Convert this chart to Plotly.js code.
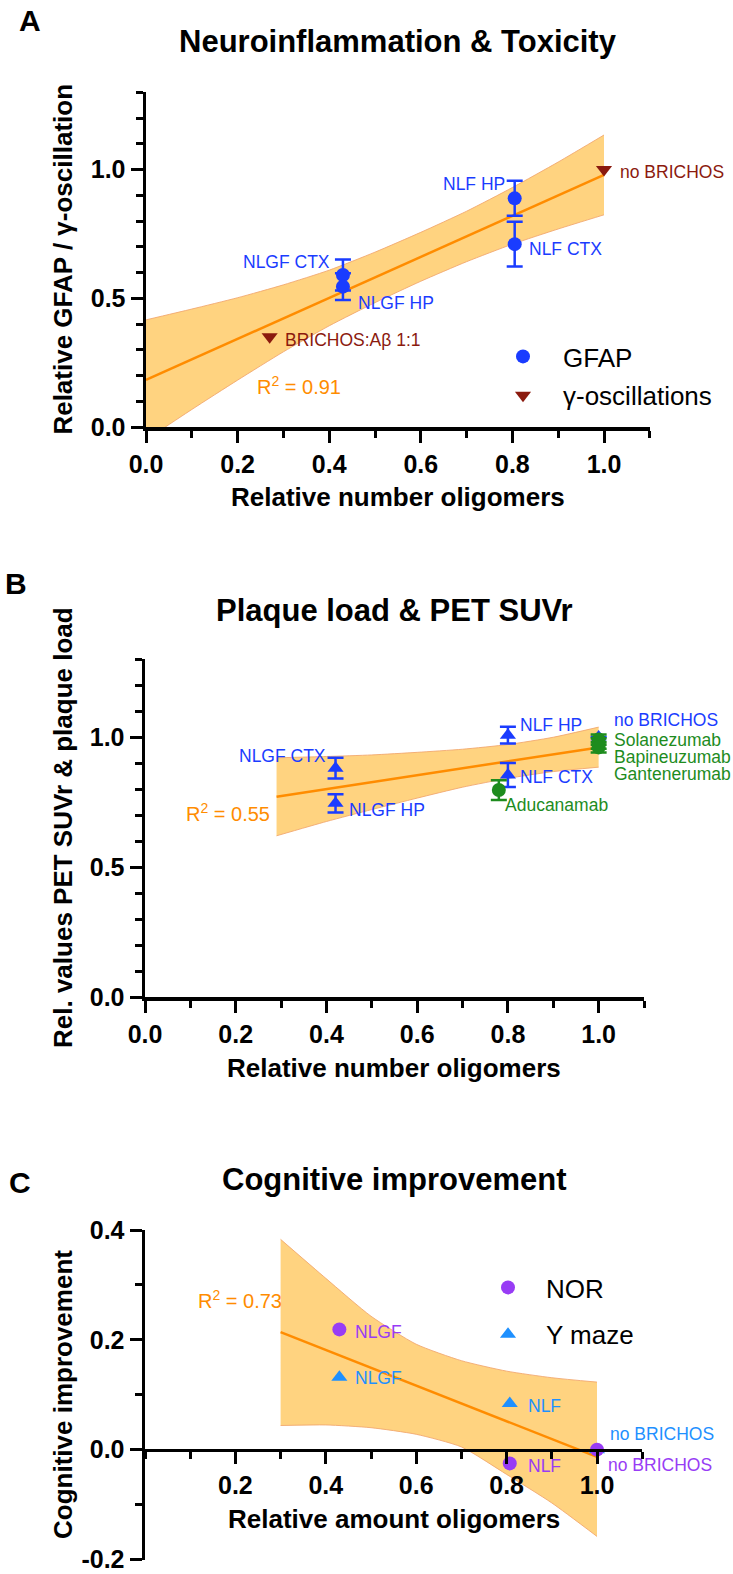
<!DOCTYPE html>
<html>
<head>
<meta charset="utf-8">
<script src="https://cdn.plot.ly/plotly-3.0.1.min.js"></script>
<style>
html, body { margin: 0; padding: 0; background: #fff; }
#chart { width: 733px; height: 1574px; }
</style>
</head>
<body>
<div id="chart"></div>
<script>
// ================= DATA =================
// Panel A – Neuroinflammation & Toxicity
const aGfapLabels = ['NLGF CTX', 'NLGF HP', 'NLF HP', 'NLF CTX'];
const aGfapX      = [0.43, 0.43, 0.805, 0.805];
const aGfapY      = [0.59, 0.545, 0.888, 0.71];
const aGfapErr    = [0.06, 0.052, 0.068, 0.087];
const aGammaLabels = ['BRICHOS:Aβ 1:1', 'no BRICHOS'];
const aGammaX      = [0.27, 1.0];
const aGammaY      = [0.35, 1.0];
const aFitX = [0, 1.0];
const aFitY = [0.183, 0.979];
const aBandX     = [0, 0.1, 0.2, 0.3, 0.4, 0.5, 0.6, 0.7, 0.8, 0.9, 1.0];
const aBandUpper = [0.416, 0.458, 0.502, 0.552, 0.609, 0.679, 0.756, 0.838, 0.930, 1.029, 1.134];
const aBandLower = [-0.050, 0.068, 0.182, 0.292, 0.393, 0.483, 0.566, 0.642, 0.710, 0.769, 0.824];
const aR2 = '0.91';

// Panel B – Plaque load & PET SUVr
const bPlaqueLabels = ['NLGF CTX', 'NLGF HP', 'NLF HP', 'NLF CTX', 'no BRICHOS'];
const bPlaqueX      = [0.42, 0.42, 0.80, 0.80, 1.0];
const bPlaqueY      = [0.88, 0.745, 1.007, 0.854, 1.0];
const bPlaqueErr    = [0.04, 0.035, 0.032, 0.046, 0];
const bPetLabels = ['Solanezumab', 'Bapineuzumab', 'Gantenerumab', 'Aducanamab'];
const bPetX      = [1.0, 1.0, 1.0, 0.78];
const bPetY      = [0.99, 0.975, 0.96, 0.796];
const bPetErr    = [0.02, 0.02, 0.02, 0.038];
const bFitX = [0.29, 1.0];
const bFitY = [0.77, 0.96];
const bBandX     = [0.29, 0.4, 0.5, 0.6, 0.7, 0.8, 0.9, 1.0];
const bBandUpper = [0.92, 0.925, 0.931, 0.941, 0.953, 0.971, 0.999, 1.038];
const bBandLower = [0.62, 0.675, 0.721, 0.765, 0.807, 0.841, 0.867, 0.884];
const bR2 = '0.55';

// Panel C – Cognitive improvement
const cNorLabels = ['NLGF', 'NLF', 'no BRICHOS'];
const cNorX      = [0.43, 0.807, 1.0];
const cNorY      = [0.219, -0.025, 0.0];
const cYmazeLabels = ['NLGF', 'NLF', 'no BRICHOS'];
const cYmazeX      = [0.43, 0.807, 1.0];
const cYmazeY      = [0.132, 0.084, 0.0];
const cFitX = [0.3, 1.0];
const cFitY = [0.214, -0.013];
const cBandX     = [0.3, 0.4, 0.5, 0.6, 0.7, 0.8, 0.9, 1.0];
const cBandUpper = [0.383, 0.312, 0.243, 0.192, 0.162, 0.143, 0.131, 0.123];
const cBandLower = [0.044, 0.045, 0.040, 0.028, 0.005, -0.045, -0.097, -0.158];
const cR2 = '0.73';

// Axis ticks
const xTickValsC = [0.2, 0.4, 0.6, 0.8, 1.0];
const xTickTextC = ['0.2', '0.4', '0.6', '0.8', '1.0'];
const yTickValsC = [-0.2, 0.0, 0.2, 0.4];
const yTickTextC = ['-0.2', '0.0', '0.2', '0.4'];

// ================= STYLE / LAYOUT =================
const W = 733, H = 1574;
const PX = v => v / W;
const PY = v => 1 - v / H;
const FONT = 'Liberation Sans, Arial, Helvetica, sans-serif';

const C_BLUE = '#1a3cff';
const C_RED = '#8b1a0e';
const C_GREEN = '#1e8c1e';
const C_PURPLE = '#983cf5';
const C_LBLUE = '#1e90ff';
const C_ORANGE = '#ff8c00';
const C_BAND = 'rgb(255,211,128)';
const C_BANDEDGE = 'rgba(242,168,112,0.9)';

const minorTicks = { ticks: 'outside', ticklen: 7, tickwidth: 3, tickcolor: '#000', dtick: 0.1, tick0: 0, showgrid: false };
const axisBase = {
  showline: true, linecolor: '#000', linewidth: 3.5,
  ticks: 'outside', ticklen: 12, tickwidth: 3, tickcolor: '#000',
  showgrid: false, zeroline: false, fixedrange: true,
  ticklabeloverflow: 'allow',
  tickfont: { family: FONT, size: 25, color: '#000', weight: 'bold' },
  minor: minorTicks
};

const traces = [];
function band(xs, lo, hi, xa, ya) {
  traces.push({ x: xs, y: lo, xaxis: xa, yaxis: ya, mode: 'lines', line: { color: C_BANDEDGE, width: 1, shape: 'spline', smoothing: 0.6 }, showlegend: false, hoverinfo: 'skip' });
  traces.push({ x: xs, y: hi, xaxis: xa, yaxis: ya, mode: 'lines', fill: 'tonexty', fillcolor: C_BAND, line: { color: C_BANDEDGE, width: 1, shape: 'spline', smoothing: 0.6 }, showlegend: false, hoverinfo: 'skip' });
}
function fit(xs, ys, xa, ya) {
  traces.push({ x: xs, y: ys, xaxis: xa, yaxis: ya, mode: 'lines', line: { color: C_ORANGE, width: 2.5 }, showlegend: false, hoverinfo: 'skip' });
}
function pts(xs, ys, err, color, symbol, xa, ya, name, legend, rank) {
  const t = {
    x: xs, y: ys, xaxis: xa, yaxis: ya, mode: 'markers', name: name,
    marker: { color: color, size: 14, symbol: symbol, line: { width: 0 } },
    showlegend: !!legend, legend: legend || 'legend', legendgroup: name, legendrank: rank || 1000,
    cliponaxis: false, hoverinfo: 'skip'
  };
  if (err) t.error_y = { type: 'data', array: err, visible: true, color: color, thickness: 2.5, width: 8 };
  traces.push(t);
}

// Panel A
band(aBandX, aBandLower, aBandUpper, 'x', 'y');
fit(aFitX, aFitY, 'x', 'y');
pts(aGfapX, aGfapY, aGfapErr, C_BLUE, 'circle', 'x', 'y', 'GFAP', 'legend', 1);
pts(aGammaX, aGammaY, null, C_RED, 'triangle-down', 'x', 'y', 'γ-oscillations', 'legend', 2);
// Panel B
band(bBandX, bBandLower, bBandUpper, 'x2', 'y2');
fit(bFitX, bFitY, 'x2', 'y2');
pts(bPlaqueX, bPlaqueY, bPlaqueErr, C_BLUE, 'triangle-up', 'x2', 'y2', 'plaque', null);
pts(bPetX, bPetY, bPetErr, C_GREEN, 'circle', 'x2', 'y2', 'PET', null);
// Panel C
band(cBandX, cBandLower, cBandUpper, 'x3', 'y3');
fit(cFitX, cFitY, 'x3', 'y3');
pts(cYmazeX, cYmazeY, null, C_LBLUE, 'triangle-up', 'x3', 'y3', 'Y maze', 'legend2', 2);
pts(cNorX, cNorY, null, C_PURPLE, 'circle', 'x3', 'y3', 'NOR', 'legend2', 1);

// ---------- annotations ----------
const ann = [];
function label(x, y, text, color, st, xref, yref, size) {
  ann.push({ x: x, y: y, xref: xref, yref: yref, text: text, showarrow: false,
    xanchor: st.a, yanchor: 'middle', xshift: st.dx, yshift: st.dy,
    font: { family: FONT, size: size || 17.5, color: color } });
}
function labels(xs, ys, texts, color, styles, xref, yref) {
  texts.forEach((t, i) => label(xs[i], ys[i], t, color, styles[i], xref, yref));
}
// label offsets (pixels)
const aGfapStyle = [{a:'right',dx:-11,dy:13},{a:'left',dx:13,dy:-16},{a:'right',dx:-8,dy:14},{a:'left',dx:12,dy:-5}];
const aGammaStyle = [{a:'left',dx:13,dy:-3},{a:'left',dx:14,dy:-2}];
const bPlaqueStyle = [{a:'right',dx:-8,dy:12},{a:'left',dx:11,dy:-7},{a:'left',dx:10,dy:10},{a:'left',dx:10,dy:-2},{a:'left',dx:13,dy:17}];
const bPetStyle = [{a:'left',dx:13,dy:0},{a:'left',dx:13,dy:-13.5},{a:'left',dx:13,dy:-26.6},{a:'left',dx:4,dy:-15}];
const cNorStyle = [{a:'left',dx:14,dy:-3},{a:'left',dx:16,dy:-3},{a:'left',dx:9,dy:-15}];
const cYmazeStyle = [{a:'left',dx:14,dy:-1},{a:'left',dx:16,dy:-2},{a:'left',dx:11,dy:16}];

labels(aGfapX, aGfapY, aGfapLabels, C_BLUE, aGfapStyle, 'x', 'y');
labels(aGammaX, aGammaY, aGammaLabels, C_RED, aGammaStyle, 'x', 'y');
labels(bPlaqueX, bPlaqueY, bPlaqueLabels, C_BLUE, bPlaqueStyle, 'x2', 'y2');
labels(bPetX, bPetY, bPetLabels, C_GREEN, bPetStyle, 'x2', 'y2');
labels(cNorX, cNorY, cNorLabels, C_PURPLE, cNorStyle, 'x3', 'y3');
labels(cYmazeX, cYmazeY, cYmazeLabels, C_LBLUE, cYmazeStyle, 'x3', 'y3');

// R² annotations (data-anchored, left aligned)
label(0.238, 0.163, 'R<sup>2</sup> = ' + aR2, C_ORANGE, {a:'left',dx:0,dy:0}, 'x', 'y', 20);
label(0.087, 0.71, 'R<sup>2</sup> = ' + bR2, C_ORANGE, {a:'left',dx:0,dy:0}, 'x2', 'y2', 20);
label(0.113, 0.274, 'R<sup>2</sup> = ' + cR2, C_ORANGE, {a:'left',dx:0,dy:0}, 'x3', 'y3', 20);

function paperText(xp, yp, text, size, opts) {
  ann.push(Object.assign({ x: PX(xp), y: PY(yp), xref: 'paper', yref: 'paper', text: text, showarrow: false,
    xanchor: 'center', yanchor: 'middle',
    font: { family: FONT, size: size, color: '#000', weight: 'bold' } }, opts || {}));
}
// panel letters
paperText(30, 20, 'A', 30);
paperText(16, 584, 'B', 30);
paperText(20, 1182, 'C', 30);
// titles
paperText(398, 41, 'Neuroinflammation &amp; Toxicity', 31);
paperText(394, 610, 'Plaque load &amp; PET SUVr', 31);
paperText(394, 1179, 'Cognitive improvement', 31);
// x titles
paperText(398, 497, 'Relative number oligomers', 26);
paperText(394, 1068, 'Relative number oligomers', 26);
paperText(394, 1519, 'Relative amount oligomers', 26);
// y titles
paperText(63, 259.6, 'Relative GFAP / γ-oscillation', 26, { textangle: -90 });
paperText(63, 828, 'Rel. values PET SUVr &amp; plaque load', 26, { textangle: -90 });
paperText(63, 1395, 'Cognitive improvement', 26, { textangle: -90 });

const layout = {
  width: W, height: H,
  margin: { l: 0, r: 0, t: 0, b: 0, pad: 0 },
  paper_bgcolor: '#fff', plot_bgcolor: 'rgba(0,0,0,0)',
  font: { family: FONT, color: '#000' },
  hovermode: false,
  xaxis: Object.assign({}, axisBase, { domain: [PX(146), PX(649.8)], range: [0, 1.1], dtick: 0.2, tick0: 0, tickformat: '.1f', anchor: 'y' }),
  yaxis: Object.assign({}, axisBase, { domain: [PY(427), PY(92.25)], range: [0, 1.3], dtick: 0.5, tick0: 0, tickformat: '.1f', anchor: 'x' }),
  xaxis2: Object.assign({}, axisBase, { domain: [PX(145), PX(644)], range: [0, 1.1], dtick: 0.2, tick0: 0, tickformat: '.1f', anchor: 'y2' }),
  yaxis2: Object.assign({}, axisBase, { domain: [PY(997), PY(659)], range: [0, 1.3], dtick: 0.5, tick0: 0, tickformat: '.1f', anchor: 'x2' }),
  xaxis3: Object.assign({}, axisBase, { domain: [PX(145), PX(642.2)], range: [0, 1.1], tickmode: 'array', tickvals: xTickValsC, ticktext: xTickTextC, anchor: 'free', position: PY(1449.7) }),
  yaxis3: Object.assign({}, axisBase, { domain: [PY(1559.5), PY(1230)], range: [-0.2, 0.4], tickmode: 'array', tickvals: yTickValsC, ticktext: yTickTextC, anchor: 'x3' }),
  legend: { x: PX(483), y: PY(333), xanchor: 'left', yanchor: 'top', bgcolor: 'rgba(0,0,0,0)', borderwidth: 0,
    font: { family: FONT, size: 26, color: '#000' }, itemwidth: 70, tracegroupgap: 2, traceorder: 'grouped', itemclick: false, itemdoubleclick: false },
  legend2: { x: PX(470), y: PY(1264), xanchor: 'left', yanchor: 'top', bgcolor: 'rgba(0,0,0,0)', borderwidth: 0,
    font: { family: FONT, size: 26, color: '#000' }, itemwidth: 66, tracegroupgap: 10, traceorder: 'grouped', itemclick: false, itemdoubleclick: false },
  showlegend: true,
  annotations: ann
};

Plotly.newPlot('chart', traces, layout, { staticPlot: true, displayModeBar: false });
</script>
</body>
</html>
